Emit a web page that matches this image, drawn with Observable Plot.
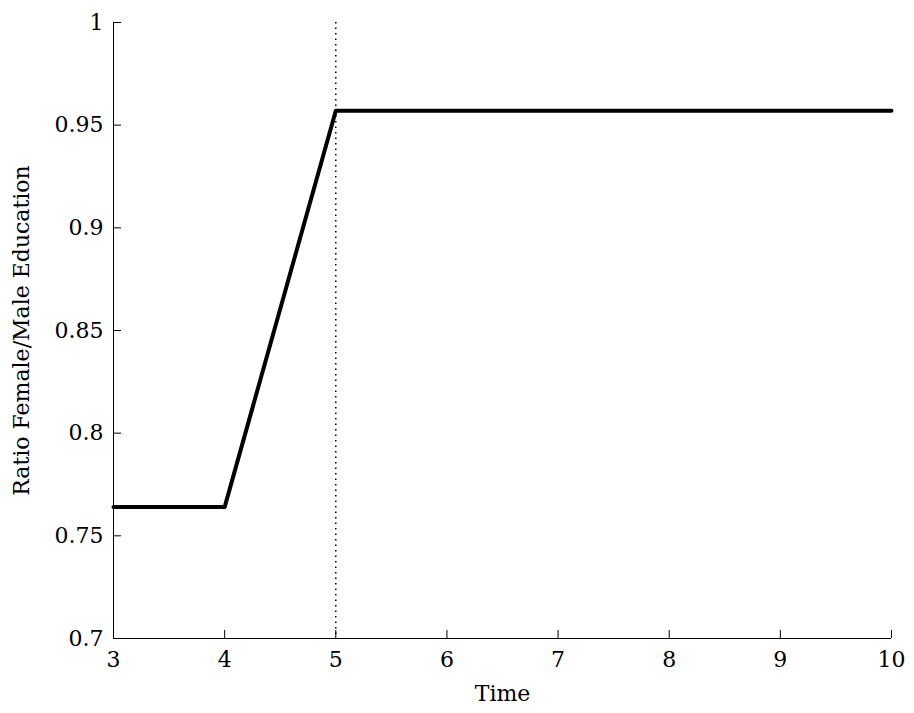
<!DOCTYPE html>
<html>
<head>
<script src="https://cdn.jsdelivr.net/npm/d3@7"></script>
<script src="https://cdn.jsdelivr.net/npm/@observablehq/plot@0.6"></script>
<style>body{margin:0;background:#fff}</style>
</head>
<body>
<div id="chart"></div>
<script>
const times = [3, 4, 5, 10];
const ratios = [0.764, 0.764, 0.957, 0.957];
const xTicks = [3, 4, 5, 6, 7, 8, 9, 10];
const yTicks = [0.7, 0.75, 0.8, 0.85, 0.9, 0.95, 1];
const eventTime = 5;

const data = times.map((t, i) => ({t, r: ratios[i]}));

let chart = Plot.plot({
  width: 914,
  height: 713,
  marginLeft: 113,
  marginRight: 23,
  marginTop: 22,
  marginBottom: 75,
  style: {fontFamily: "'DejaVu Serif', serif", fontSize: "22px", background: "white"},
  x: {domain: [3, 10]},
  y: {domain: [0.7, 1]},
  marks: [
    Plot.ruleX([3], {stroke: "black"}),
    Plot.ruleY([0.7], {stroke: "black"}),
    Plot.axisX({ticks: xTicks, tickSize: -8, tickPadding: 21, tickFormat: d => d, label: "Time", labelAnchor: "center", labelArrow: false, labelOffset: 62}),
    Plot.axisY({ticks: yTicks, tickSize: -8, tickPadding: 18, tickFormat: d => d, label: "Ratio Female/Male Education", labelAnchor: "center", labelArrow: false, labelOffset: 100}),
    Plot.ruleX([eventTime], {stroke: "black", strokeDasharray: "1.5,4", strokeWidth: 1.5}),
    Plot.line(data, {x: "t", y: "r", stroke: "black", strokeWidth: 4})
  ]
});
d3.select('#chart').append(() => chart);
</script>
</body>
</html>
